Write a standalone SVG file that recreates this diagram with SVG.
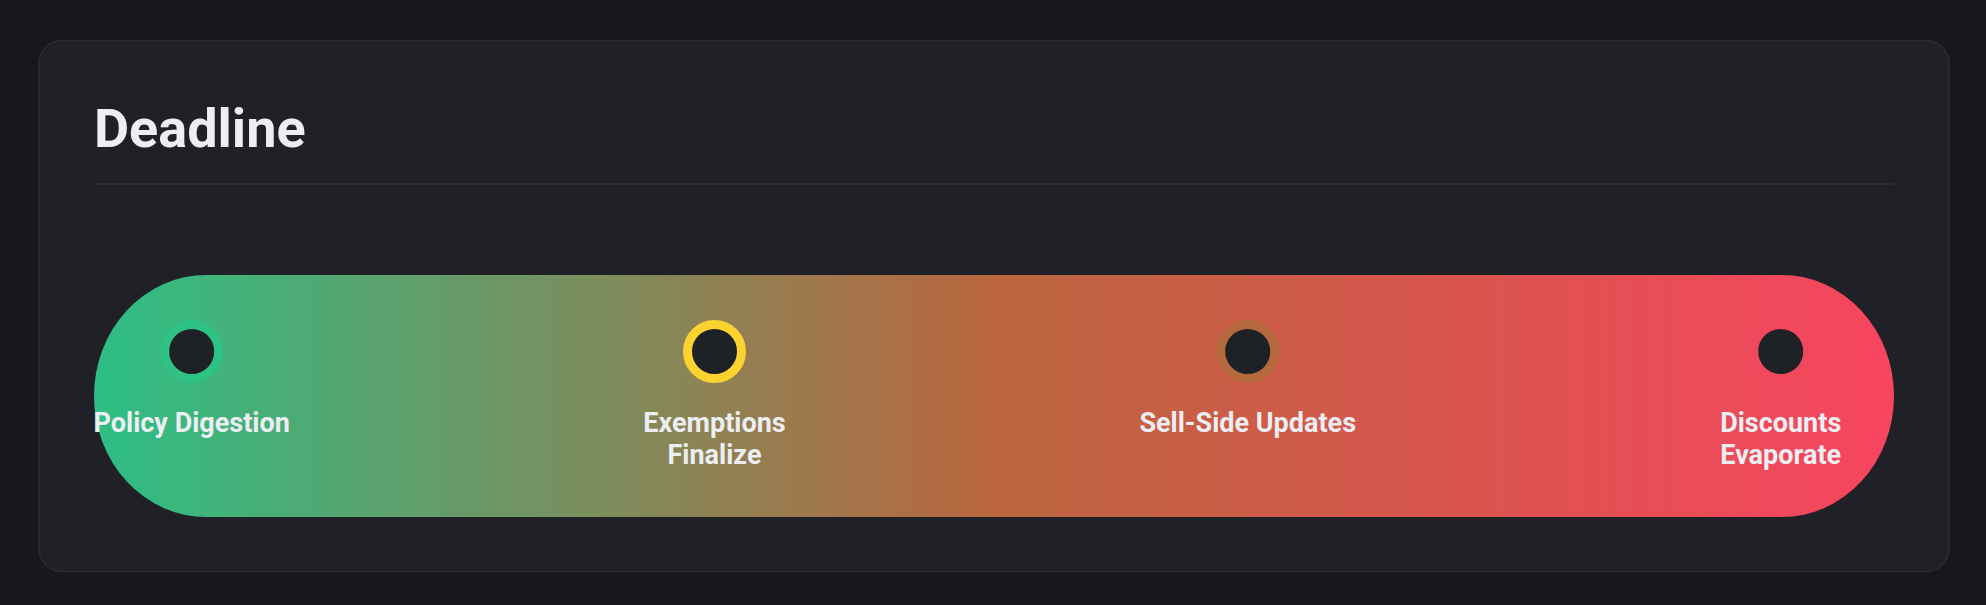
<svg xmlns="http://www.w3.org/2000/svg" width="1986" height="605" viewBox="0 0 1986 605">
  <defs>
    <linearGradient id="bar" x1="0" y1="0" x2="1" y2="0">
      <stop offset="0" stop-color="#2dbf85"/>
      <stop offset="0.5" stop-color="#bb663e"/>
      <stop offset="1" stop-color="#f7455f"/>
    </linearGradient>
    <style>
      .title { font-family: Roboto, "Liberation Sans", sans-serif; font-weight: 700; font-size: 54px; fill: #eceef2; }
      .lbl { font-family: Roboto, "Liberation Sans", sans-serif; font-weight: 700; font-size: 27px; fill: #eceef2; text-anchor: middle; }
      .dot { fill: #1e2126; stroke-width: 9; }
    </style>
  </defs>
  <rect x="0" y="0" width="1986" height="605" fill="#16181c"/>
  <rect x="39" y="40.5" width="1910" height="531" rx="23" ry="23" fill="#1f2126" stroke="#2a2d33" stroke-width="1.5"/>
  <text class="title" x="94" y="147">Deadline</text>
  <rect x="94" y="183" width="1800" height="2" fill="#2a2d34"/>
  <rect id="track" x="94" y="275" width="1800" height="242" rx="112" ry="121" fill="url(#bar)"/>
  <g id="connectors"></g>
  <g id="node-policy">
    <circle class="dot" cx="191.7" cy="351.5" r="27" stroke="#2ec285"/>
    <text class="lbl" x="191.7" y="431.5">Policy Digestion</text>
  </g>
  <g id="node-exemptions">
    <circle class="dot" cx="714.5" cy="351.5" r="27" stroke="#fcd22f"/>
    <text class="lbl" x="714.5" y="431.5">Exemptions</text>
    <text class="lbl" x="714.5" y="464">Finalize</text>
  </g>
  <g id="node-sellside">
    <circle class="dot" cx="1247.7" cy="351.5" r="27" stroke="#b6693d"/>
    <text class="lbl" x="1247.7" y="431.5">Sell-Side Updates</text>
  </g>
  <g id="node-discounts">
    <circle class="dot" cx="1780.7" cy="351.5" r="27" stroke="#f2485d"/>
    <text class="lbl" x="1780.7" y="431.5">Discounts</text>
    <text class="lbl" x="1780.7" y="464">Evaporate</text>
  </g>
</svg>
